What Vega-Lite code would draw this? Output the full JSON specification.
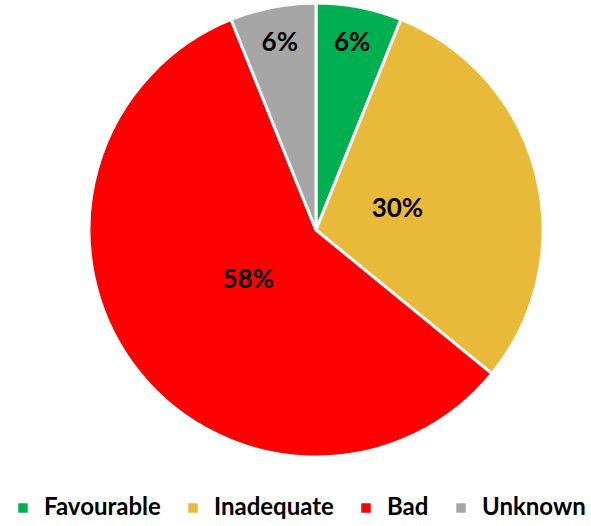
{
  "$schema": "https://vega.github.io/schema/vega-lite/v6.json",
  "autosize": "none",
  "width": 454,
  "height": 454,
  "padding": {"left": 89, "top": 3, "right": 48, "bottom": 69},
  "background": "white",
  "data": {"values": [
    {"status": "Favourable", "pct": 6.1, "label": "6%", "idx": 1, "big": false},
    {"status": "Inadequate", "pct": 29.8, "label": "30%", "idx": 2, "big": true},
    {"status": "Bad", "pct": 58.0, "label": "58%", "idx": 3, "big": true},
    {"status": "Unknown", "pct": 6.1, "label": "6%", "idx": 4, "big": false}
  ]},
  "encoding": {
    "theta": {"field": "pct", "type": "quantitative", "stack": true},
    "order": {"field": "idx", "type": "quantitative"}
  },
  "layer": [
    {
      "mark": {"type": "arc", "outerRadius": 227, "stroke": "white", "strokeWidth": 3},
      "encoding": {
        "color": {
          "field": "status", "type": "nominal",
          "scale": {"domain": ["Favourable", "Inadequate", "Bad", "Unknown"], "range": ["#00B050", "#E9B93A", "#FF0000", "#A6A6A6"]},
          "legend": {
            "title": null, "orient": "none", "direction": "horizontal",
            "legendX": -78, "legendY": 493,
            "symbolType": "square", "symbolSize": 90, "symbolStrokeWidth": 0,
            "labelFont": "Lato", "labelFontWeight": "bold", "labelFontSize": 24, "labelColor": "black",
            "labelOffset": 9, "columnPadding": 20, "labelLimit": 300
          }
        }
      }
    },
    {
      "mark": {"type": "text", "radius": 84, "font": "Lato", "fontWeight": "bold", "fontSize": 26, "color": "black"},
      "encoding": {"text": {"condition": {"test": "datum.big", "field": "label"}, "value": ""}}
    },
    {
      "mark": {"type": "text", "radius": 190, "font": "Lato", "fontWeight": "bold", "fontSize": 26, "color": "black"},
      "encoding": {"text": {"condition": {"test": "!datum.big", "field": "label"}, "value": ""}}
    }
  ]
}
